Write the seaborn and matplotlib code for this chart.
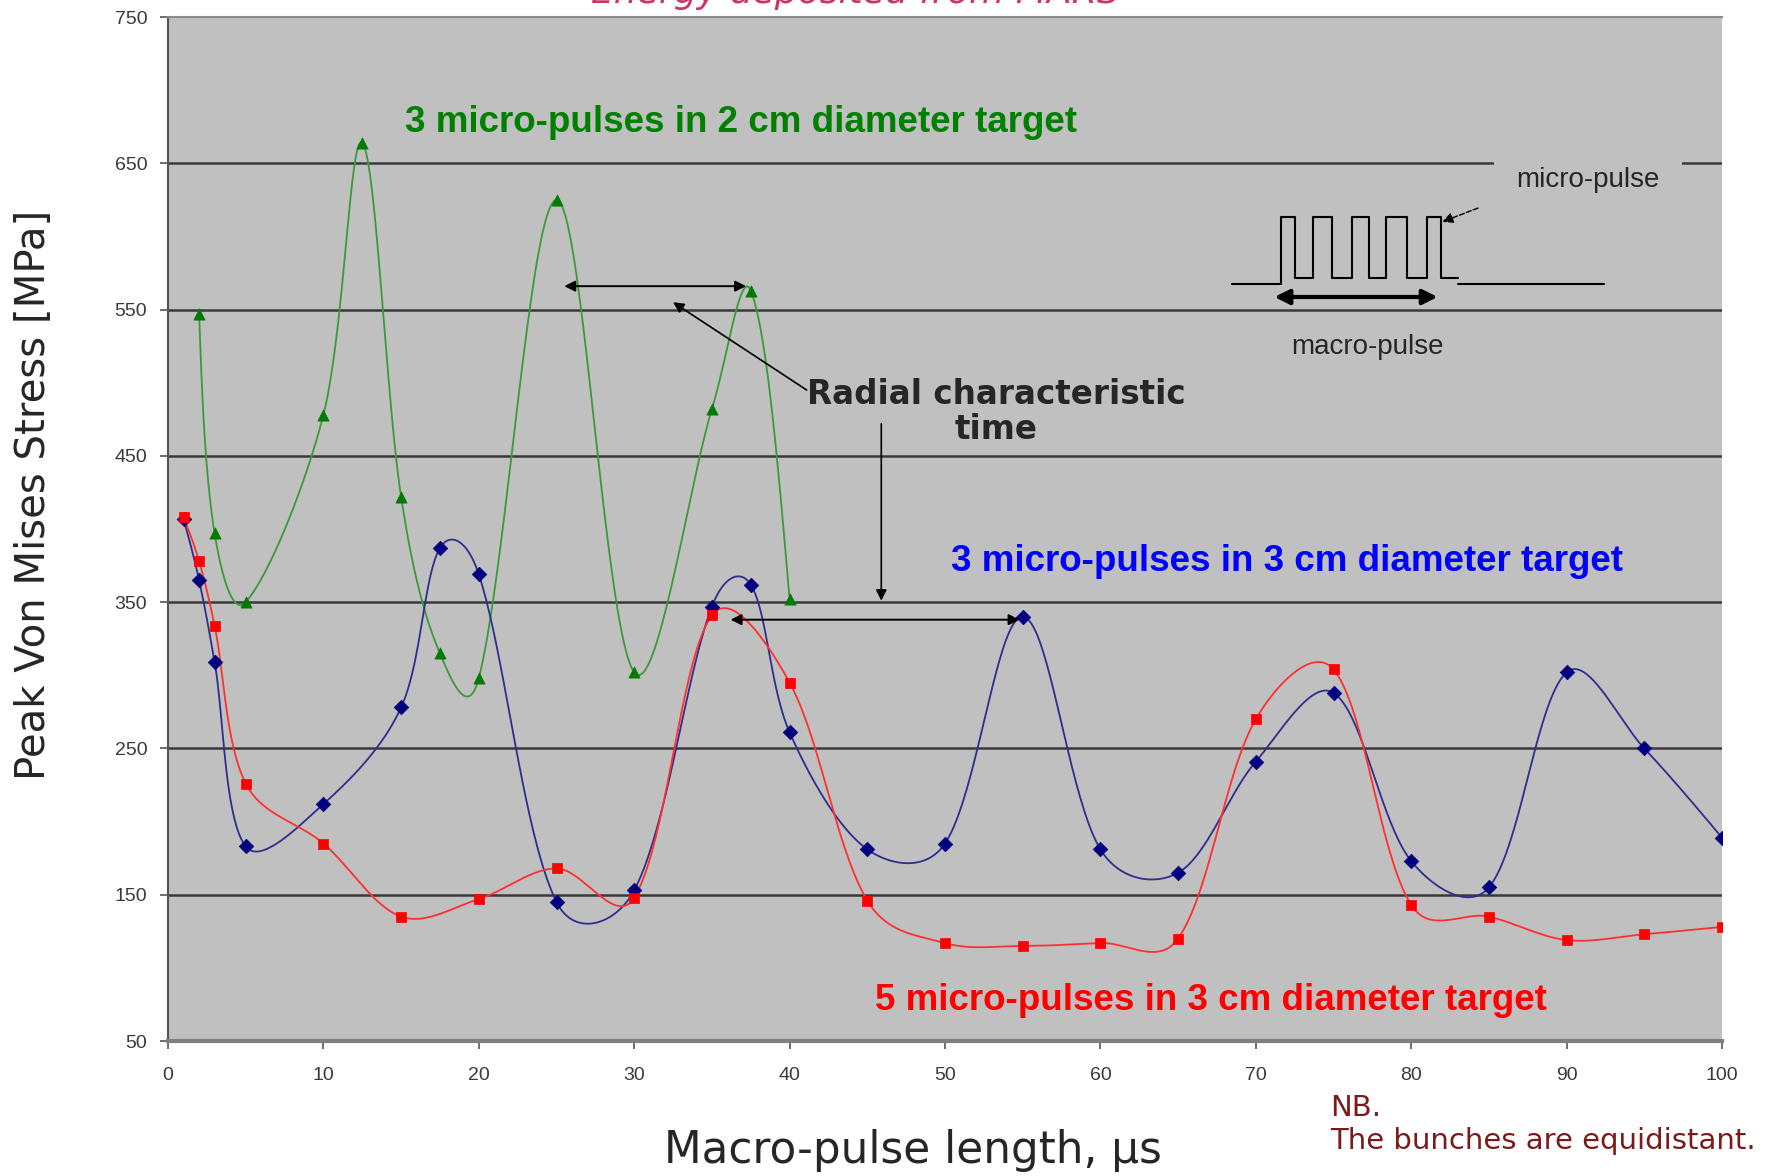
import numpy as np
import pandas as pd
import matplotlib
matplotlib.use("Agg")
import matplotlib.pyplot as plt
import seaborn as sns

# ---- data (Peak Von Mises stress, MPa, vs macro-pulse length, us) ----
green_x = [2, 3, 5, 10, 12.5, 15, 17.5, 20, 25, 30, 35, 37.5, 40]
green_y = [547, 397, 350, 478, 664, 422, 315, 298, 625, 302, 482, 563, 352]

blue_x = [1, 2, 3, 5, 10, 15, 17.5, 20, 25, 30, 35, 37.5, 40, 45, 50, 55,
          60, 65, 70, 75, 80, 85, 90, 95, 100]
blue_y = [407, 365, 309, 183, 212, 278, 387, 369, 145, 153, 347, 362, 261,
          181, 185, 340, 181, 165, 241, 288, 173, 155, 302, 250, 189]

red_x = [1, 2, 3, 5, 10, 15, 20, 25, 30, 35, 40, 45, 50, 55, 60, 65, 70,
         75, 80, 85, 90, 95, 100]
red_y = [408, 378, 334, 226, 185, 135, 147, 168, 148, 341, 295, 146, 117,
         115, 117, 120, 270, 304, 143, 135, 119, 123, 128]

x_ticks = list(range(0, 101, 10))
y_ticks = list(range(50, 751, 100))

W, H = 1782, 1176
AX_L, AX_R, AX_T, AX_B = 168, 1722, 17, 1041

sns.set_style("white")
plt.rcParams["font.family"] = ["Liberation Sans", "DejaVu Sans"]

fig = plt.figure(figsize=(W / 100, H / 100), dpi=100)
fig.patch.set_facecolor("white")
ax = fig.add_axes([AX_L / W, 1 - AX_B / H, (AX_R - AX_L) / W, (AX_B - AX_T) / H])
ax.set_facecolor("#C0C0C0")
ax.set_xlim(0, 100)
ax.set_ylim(50, 750)

# pixel scale of the axes, used for smoothing in screen proportions
SX = (AX_R - AX_L) / 100.0
SY = (AX_B - AX_T) / 700.0


def smooth(xs, ys, n=40, blend=0.5):
    """Smoothed line through the points: cubic Bezier segments. Handle lengths
    mix plain Catmull-Rom tangents with chord-length scaled ones."""
    P = np.column_stack([np.asarray(xs, float) * SX, np.asarray(ys, float) * SY])
    m = len(P)

    def handles(i):
        if i == 0 or i == m - 1:
            return np.zeros(2), np.zeros(2)
        T = P[i + 1] - P[i - 1]
        d_in = np.linalg.norm(P[i] - P[i - 1])
        d_out = np.linalg.norm(P[i + 1] - P[i])
        tot = d_in + d_out
        h_in = blend * T / 6.0 + (1 - blend) * T * d_in / tot / 3.0
        h_out = blend * T / 6.0 + (1 - blend) * T * d_out / tot / 3.0
        return h_in, h_out

    hs = [handles(i) for i in range(m)]
    out = []
    for i in range(m - 1):
        p1, p2 = P[i], P[i + 1]
        c1 = p1 + hs[i][1]
        c2 = p2 - hs[i + 1][0]
        if i == 0:
            c1 = p1 + (c2 - p1) / 2.0
        if i == m - 2:
            c2 = p2 + (c1 - p2) / 2.0
        t = np.linspace(0, 1, n, endpoint=(i == m - 2))[:, None]
        seg = ((1 - t) ** 3) * p1 + 3 * ((1 - t) ** 2) * t * c1 + 3 * (1 - t) * t ** 2 * c2 + t ** 3 * p2
        out.append(seg)
    S = np.vstack(out)
    return pd.DataFrame({"x": S[:, 0] / SX, "y": S[:, 1] / SY})


# gridlines
for yv in y_ticks[1:-1]:
    ax.axhline(yv, color="#3a3a3a", lw=1.8, zorder=1)

series = [
    (green_x, green_y, "#3a9a3a", "#007a00", "^", 65),
    (blue_x, blue_y, "#2e2e8c", "#000080", "D", 55),
    (red_x, red_y, "#ff3030", "#ff0000", "s", 50),
]
for xs, ys, lc, mc, mk, ms in series:
    curve = smooth(xs, ys)
    sns.lineplot(data=curve, x="x", y="y", sort=False, estimator=None,
                 color=lc, lw=1.3, ax=ax, zorder=3)
    pts = pd.DataFrame({"x": xs, "y": ys})
    sns.scatterplot(data=pts, x="x", y="y", marker=mk, s=ms, color=mc,
                    edgecolor=mc, linewidth=0.5, ax=ax, zorder=4)

# axes styling
ax.set_xticks(x_ticks)
ax.set_yticks(y_ticks)
tick_font = {"family": ["Liberation Sans Narrow", "Liberation Sans"], "size": 14}
ax.set_xticklabels([str(v) for v in x_ticks], fontdict=tick_font, color="#3a3a3a")
ax.set_yticklabels([str(v) for v in y_ticks], fontdict=tick_font, color="#3a3a3a")
ax.tick_params(axis="both", direction="out", length=6, width=1.2, color="#555555")
ax.tick_params(axis="y", pad=9, left=True)
ax.tick_params(axis="x", pad=13, bottom=True)
ax.set_xlabel("")
ax.set_ylabel("")
ax.spines["right"].set_visible(False)
ax.spines["top"].set_color("#8a8a8a")
ax.spines["top"].set_linewidth(1.5)
ax.spines["left"].set_color("#555555")
ax.spines["left"].set_linewidth(1.5)
ax.spines["bottom"].set_color("#808080")
ax.spines["bottom"].set_linewidth(3)

# series labels
lab = dict(fontsize=26.5, fontweight="bold", ha="center", va="center", zorder=6)
ax.text(36.9, 678, "3 micro-pulses in 2 cm diameter target", color="#008000", **lab)
ax.text(72.0, 378, "3 micro-pulses in 3 cm diameter target", color="#0000ff", **lab)
ax.text(67.1, 78, "5 micro-pulses in 3 cm diameter target", color="#ff0000", **lab)

# radial characteristic time annotation
ax.text(53.3, 480, "Radial characteristic\ntime", fontsize=23.5, fontweight="bold",
        family="DejaVu Sans", ha="center", va="center", linespacing=1.1, zorder=6)
arr = dict(arrowstyle="<|-|>", color="black", lw=1.4, mutation_scale=16, shrinkA=0, shrinkB=0)
ax.annotate("", xy=(25.5, 566), xytext=(37.2, 566), arrowprops=arr, zorder=6)
ax.annotate("", xy=(36.2, 338), xytext=(54.8, 338), arrowprops=arr, zorder=6)
one = dict(arrowstyle="-|>", color="black", lw=1.2, mutation_scale=16, shrinkA=0, shrinkB=0)
ax.annotate("", xy=(32.5, 555), xytext=(41.1, 495), arrowprops=one, zorder=6)
ax.annotate("", xy=(45.9, 351), xytext=(45.9, 472), arrowprops=one, zorder=6)

# macro-pulse / micro-pulse sketch
low, base, high = 571.6, 567.5, 613
edges = [71.6, 72.5, 73.7, 74.9, 76.2, 77.3, 78.4, 79.7, 81.0, 81.9]
px, py = [68.5, edges[0]], [base, base]
level = high
for e in edges:
    px += [e, e]
    py += [py[-1], level]
    level = low if level == high else high
px += [83.0]
py += [low]
ax.plot(px, py, color="black", lw=1.5, zorder=6)
ax.plot([83.0, 92.4], [base, base], color="black", lw=1.5, zorder=6)
ax.annotate("", xy=(71.2, 558.6), xytext=(81.7, 558.6),
            arrowprops=dict(arrowstyle="<|-|>", color="black", lw=3, mutation_scale=22,
                            shrinkA=0, shrinkB=0), zorder=6)
ax.annotate("", xy=(82.0, 610), xytext=(84.3, 619.4),
            arrowprops=dict(arrowstyle="-|>", color="black", lw=1, ls="--", mutation_scale=16,
                            shrinkA=0, shrinkB=0), zorder=6)
ax.text(91.4, 638.6, "micro-pulse", fontsize=20, ha="center", va="center", zorder=7,
        bbox=dict(boxstyle="square,pad=0.8", fc="#C0C0C0", ec="none"))
ax.text(77.2, 524.4, "macro-pulse", fontsize=20, ha="center", va="center", zorder=7)

# outer texts
fig.text(34 / W, 1 - 495 / H, "Peak Von Mises Stress [MPa]", rotation=90,
         fontsize=29, family="DejaVu Sans", ha="center", va="center")
fig.text(913 / W, 1 - 1150 / H, "Macro-pulse length, μs", fontsize=31.5,
         family="DejaVu Sans", ha="center", va="center")
fig.text(1330 / W, 1 - 1108 / H, "NB.", fontsize=21, family="DejaVu Sans",
         color="#7a1a1a", ha="left", va="center")
fig.text(1330 / W, 1 - 1141 / H, "The bunches are equidistant.", fontsize=21,
         family="DejaVu Sans", color="#7a1a1a", ha="left", va="center")
fig.text(855 / W, 1 - 3 / H, "Energy deposited from MARS", fontsize=26,
         family="DejaVu Sans", style="italic", color="#cc3366", ha="center",
         va="baseline")

fig.savefig("out.png", dpi=100, facecolor="white")
